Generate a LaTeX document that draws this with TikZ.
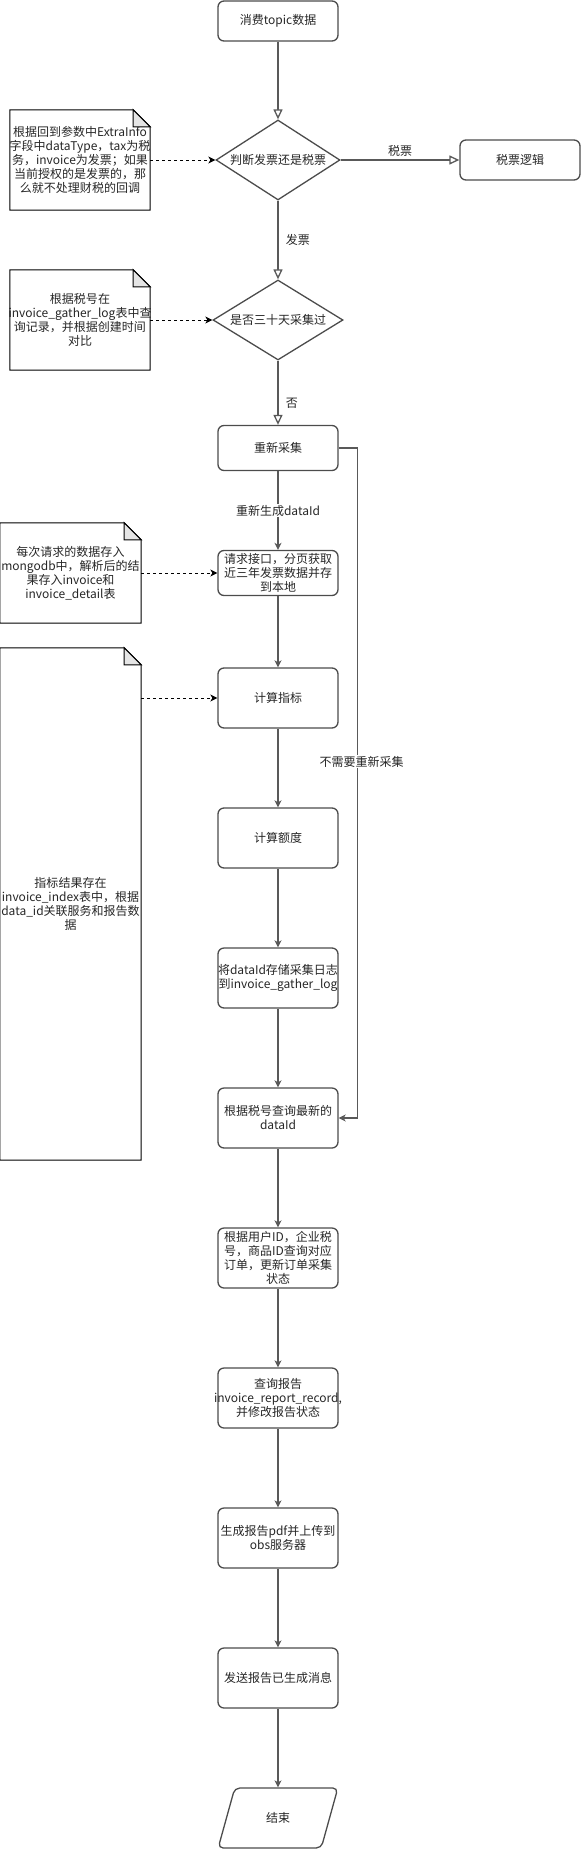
\documentclass[tikz,border=0pt]{standalone}
\usepackage{fontspec}
\setmainfont{Noto Sans CJK SC}
\usetikzlibrary{shapes.geometric,arrows.meta,positioning}

\tikzset{
  flowbox/.style={draw=black!70, line width=1.3pt, rounded corners=6pt, minimum width=120, minimum height=60, inner xsep=-10pt, inner ysep=0pt, align=center},
  choice/.style={draw=black!70, line width=1.3pt, shape=diamond, aspect=1.5, minimum width=124, minimum height=80, inner sep=0pt, align=center},
  endbox/.style={draw=black!70, line width=1.3pt, shape=trapezium, trapezium left angle=71.6, trapezium right angle=108.4, trapezium stretches=true, minimum width=120, minimum height=60, rounded corners=5pt},
  memo/.style={minimum width=140, minimum height=100, inner xsep=-10pt, inner ysep=0pt, align=center},
  flow/.style={draw=black!65, line width=1.3pt, -{Stealth[length=7pt,width=7pt,inset=2pt]}},
  judgeflow/.style={draw=black!65, line width=1.3pt, -{Triangle[open,length=10pt,width=9pt,fill=white]}},
  hint/.style={draw=black, line width=1pt, dashed, -{Stealth[length=7pt,width=7pt,inset=2pt]}},
}

\begin{document}
\begin{tikzpicture}[x=1pt, y=-1pt, font=\fontsize{12}{14}\selectfont, text=black!85]
    \useasboundingbox (0,0) rectangle (581,1849);

    \node[flowbox, minimum height=40] (consume) at (278,21) {消费topic数据};
    \node[choice] (kind) at (278,160) {判断发票还是税票};
    \node[flowbox, minimum height=40] (taxlogic) at (520,160) {税票逻辑};
    \node[choice, minimum width=130] (within) at (278,320) {是否三十天采集过};
    \node[flowbox, minimum height=45] (regather) at (278,448) {重新采集};
    \node[flowbox, minimum height=45] (fetch) at (278,573) {请求接口，分页获取\\近三年发票数据并存\\到本地};
    \node[flowbox] (index) at (278,698) {计算指标};
    \node[flowbox] (quota) at (278,838) {计算额度};
    \node[flowbox] (savelog) at (278,978) {将dataId存储采集日志\\到invoice\_gather\_log};
    \node[flowbox] (latest) at (278,1118) {根据税号查询最新的\\dataId};
    \node[flowbox] (order) at (278,1258) {根据用户ID，企业税\\号，商品ID查询对应\\订单，更新订单采集\\状态};
    \node[flowbox] (report) at (278,1398) {查询报告\\invoice\_report\_record,\\并修改报告状态};
    \node[flowbox] (upload) at (278,1538) {生成报告pdf并上传到\\obs服务器};
    \node[flowbox] (notify) at (278,1678) {发送报告已生成消息};
    \node[endbox] (finish) at (278,1818) {结束};

    \node[memo] (kindmemo) at (80,160) {根据回到参数中ExtraInfo\\字段中dataType，tax为税\\务，invoice为发票；如果\\当前授权的是发票的，那\\么就不处理财税的回调};
    \node[memo] (withinmemo) at (80,320) {根据税号在\\invoice\_gather\_log表中查\\询记录，并根据创建时间\\对比};
    \node[memo, minimum width=141] (fetchmemo) at (70.5,573) {每次请求的数据存入\\mongodb中，解析后的结\\果存入invoice和\\invoice\_detail表};
    \node[memo, minimum width=141, minimum height=512] (indexmemo) at (70.5,904) {指标结果存在\\invoice\_index表中，根据\\data\_id关联服务和报告数\\据};

    \foreach \m in {kindmemo,withinmemo,fetchmemo,indexmemo}{
        \draw[line width=1pt] (\m.north west) -- ([xshift=-17pt]\m.north east) -- ([yshift=-17pt]\m.north east) -- (\m.south east) -- (\m.south west) -- cycle;
        \filldraw[fill=black!10, line width=1pt] ([xshift=-17pt]\m.north east) -- ([xshift=-17pt,yshift=-17pt]\m.north east) -- ([yshift=-17pt]\m.north east) -- cycle;
    }

    \draw[judgeflow] (consume) -- (kind);
    \draw[judgeflow] (kind) -- node[above]{税票} (taxlogic);
    \draw[judgeflow] (kind) -- node[right=4pt]{发票} (within);
    \draw[judgeflow] (within) -- node[pos=0.66, right=4pt]{否} (regather);
    \draw[flow] (regather) -- node[fill=white, inner sep=1pt]{重新生成dataId} (fetch);
    \foreach \a/\b in {fetch/index, index/quota, quota/savelog, savelog/latest, latest/order, order/report, report/upload, upload/notify, notify/finish}
        \draw[flow] (\a) -- (\b);
    \draw[flow] (regather.east) -- ++(19,0) |- node[pos=0.234, fill=white, inner sep=1pt, xshift=4pt]{不需要重新采集} (latest.east);

    \draw[hint] (kindmemo) -- (kind);
    \draw[hint] (withinmemo) -- (within);
    \draw[hint] (fetchmemo) -- (fetch);
    \draw[hint] (indexmemo.east |- index) -- (index);
\end{tikzpicture}
\end{document}
